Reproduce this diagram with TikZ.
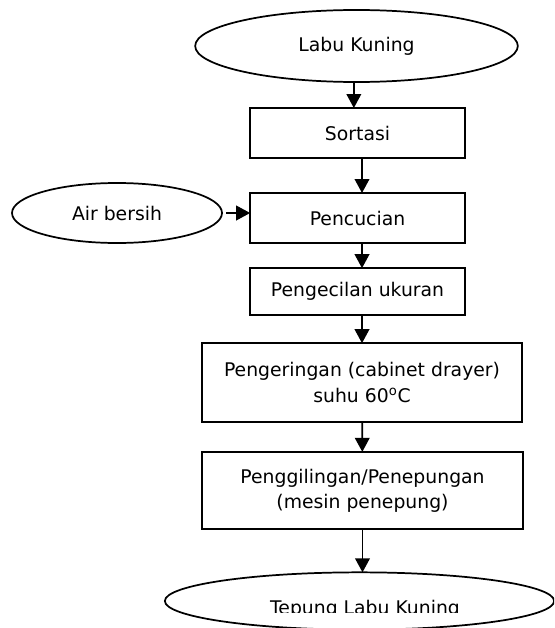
\documentclass[tikz,border=0pt]{standalone}
\usepackage{fontspec}
\setmainfont{DejaVu Sans}
\usetikzlibrary{arrows.meta, shapes.geometric}

\begin{document}
\begin{tikzpicture}[x=0.75pt, y=-0.75pt, line width=1.3pt,
    font=\fontsize{14.1}{19}\selectfont,
    proses/.style={draw, rectangle, align=center, inner sep=0pt, outer sep=0pt},
    bahan/.style={draw, ellipse, align=center, inner sep=0pt, outer sep=0pt},
    panah/.style={-{Triangle[width=11pt, length=10.5pt]}}]
    \clip (0,0) rectangle (554,628);
    % bahan baku dan tahapan proses
    \node[bahan, minimum width=242pt, minimum height=54pt] (labu) at (356.5,46) {Labu Kuning};
    \node[proses, minimum width=161pt, minimum height=37.5pt] (sortasi) at (357.5,133) {Sortasi};
    \node[proses, minimum width=161pt, minimum height=37.5pt] (cuci) at (357.5,218) {Pencucian};
    \node[bahan, minimum width=157.5pt, minimum height=45pt] (air) at (117,213) {Air bersih};
    \node[proses, minimum width=161pt, minimum height=35pt] (kecil) at (357.5,291.5) {Pengecilan ukuran};
    \node[proses, minimum width=240pt, minimum height=59pt] (kering) at (362,382.5)
        {Pengeringan (cabinet drayer)\\suhu 60\textsuperscript{o}C};
    \node[proses, minimum width=241pt, minimum height=58pt] (giling) at (362.5,490.5)
        {Penggilingan/Penepungan\\(mesin penepung)};
    \node[bahan, minimum width=292pt, minimum height=43pt] (tepung) at (359.5,601) {};
    \begin{scope}
        \clip (0,0) rectangle (554,612);
        \node[anchor=base] (teks) at (365,614) {Tepung Labu Kuning};
    \end{scope}
    % alur
    \draw[panah] ([xshift=-2pt]labu.south) -- ([xshift=-2pt]labu.south |- sortasi.north);
    \draw[panah] (sortasi.south -| kering) -- (cuci.north -| kering);
    \draw[panah] ([xshift=3pt]air.east) -- (air.east -| cuci.west);
    \draw[panah] (cuci.south -| kering) -- (kecil.north -| kering);
    \draw[panah] (kecil.south -| kering) -- (kering);
    \draw[panah] (kering) -- (giling);
    \draw[panah] (giling) -- (giling |- tepung.north);
\end{tikzpicture}
\end{document}
